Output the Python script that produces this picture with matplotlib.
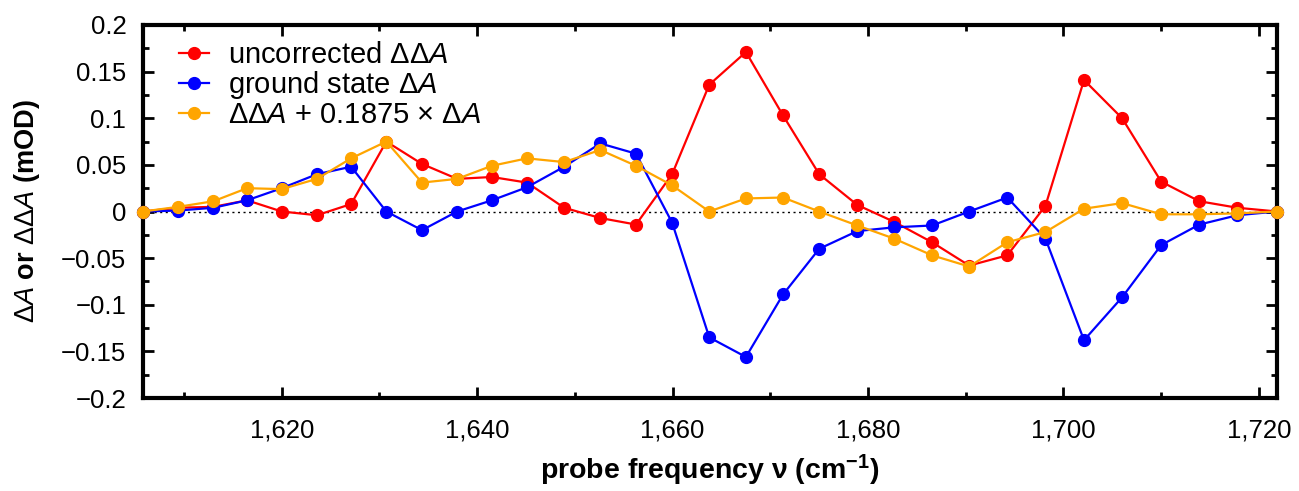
import matplotlib
matplotlib.use("Agg")
import matplotlib.pyplot as plt
from matplotlib.ticker import MultipleLocator, FuncFormatter

plt.rcParams['font.family'] = ['Liberation Sans', 'DejaVu Sans']
plt.rcParams['mathtext.fontset'] = 'custom'
plt.rcParams['mathtext.rm'] = 'Liberation Sans'
plt.rcParams['mathtext.it'] = 'Liberation Sans:italic'
plt.rcParams['mathtext.bf'] = 'Liberation Sans:bold'

freq = [1605.8, 1609.4, 1613.0, 1616.45, 1620.0, 1623.6, 1627.1, 1630.7, 1634.35,
        1637.95, 1641.5, 1645.1, 1648.9, 1652.6, 1656.25, 1659.95, 1663.75, 1667.5,
        1671.3, 1675.0, 1678.9, 1682.65, 1686.55, 1690.35, 1694.25, 1698.15, 1702.1,
        1706.0, 1710.0, 1713.9, 1717.8, 1721.85]

uncorrected = [0.0, 0.004, 0.005, 0.012, 0.0, -0.004, 0.008, 0.075, 0.051, 0.035,
               0.037, 0.031, 0.004, -0.007, -0.014, 0.040, 0.136, 0.171, 0.103, 0.040,
               0.007, -0.011, -0.033, -0.058, -0.047, 0.006, 0.141, 0.100, 0.032, 0.011,
               0.004, 0.0]

ground = [0.0, 0.001, 0.004, 0.012, 0.025, 0.040, 0.048, 0.0, -0.020, 0.0,
          0.012, 0.026, 0.048, 0.073, 0.062, -0.012, -0.135, -0.156, -0.089, -0.040,
          -0.021, -0.017, -0.015, 0.0, 0.015, -0.029, -0.138, -0.092, -0.036, -0.014,
          -0.004, 0.0]

corrected = [0.0, 0.005, 0.011, 0.025, 0.024, 0.035, 0.057, 0.075, 0.031, 0.035,
             0.049, 0.057, 0.053, 0.066, 0.049, 0.028, 0.0, 0.014, 0.015, 0.0,
             -0.015, -0.029, -0.047, -0.059, -0.033, -0.022, 0.003, 0.009, -0.003, -0.003,
             -0.002, 0.0]

labels = ['uncorrected ΔΔ$\\mathit{A}$', 'ground state Δ$\\mathit{A}$',
          'ΔΔ$\\mathit{A}$ + 0.1875 × Δ$\\mathit{A}$']
colors = ['#ff0000', '#0000ff', '#ffa500']

fig = plt.figure(figsize=(12.99, 4.91), dpi=100)
ax = fig.add_axes([143/1299, 93/491, (1277-143)/1299, (398-25)/491])

ax.axhline(0, color='black', lw=1.0, ls=(0, (1.5, 2.5)), zorder=1)
for ys, c, lab in zip([uncorrected, ground, corrected], colors, labels):
    ax.plot(freq, ys, '-o', color=c, lw=1.6, ms=8.5, label=lab, zorder=3,
            clip_on=False)

ax.set_xlim(1605.8, 1721.85)
ax.set_ylim(-0.2, 0.2)
ax.xaxis.set_major_locator(MultipleLocator(20))
ax.xaxis.set_minor_locator(MultipleLocator(10))
ax.yaxis.set_major_locator(MultipleLocator(0.05))
ax.yaxis.set_minor_locator(MultipleLocator(0.025))
ax.xaxis.set_major_formatter(FuncFormatter(lambda v, p: f"{int(round(v)):,}"))
ax.yaxis.set_major_formatter(FuncFormatter(
    lambda v, p: "0" if abs(v) < 1e-9 else ("%g" % v).replace('-', '\u2212')))

ax.tick_params(which='both', direction='in', top=True, right=True, width=2,
               labelsize=18.5)
ax.tick_params(axis='y', pad=12)
ax.tick_params(axis='x', pad=15)
ax.tick_params(which='major', length=8)
ax.tick_params(which='minor', length=4)
for s in ax.spines.values():
    s.set_linewidth(3)

ax.set_xlabel('probe frequency ν (cm$^{\\mathbf{-1}}$)', fontsize=20.5,
              fontweight='bold', labelpad=7)
ax.set_ylabel('$\\mathrm{Δ}\\mathit{A}$ or $\\mathrm{ΔΔ}\\mathit{A}$ (mOD)', fontsize=19.5,
              fontweight='bold', labelpad=14)

leg = ax.legend(loc='upper left', frameon=False, fontsize=21, handlelength=1.0,
                handletextpad=0.65, labelspacing=0.0, borderaxespad=0.15,
                bbox_to_anchor=(0.018, 1.0))

fig.savefig('out.png', dpi=100)
